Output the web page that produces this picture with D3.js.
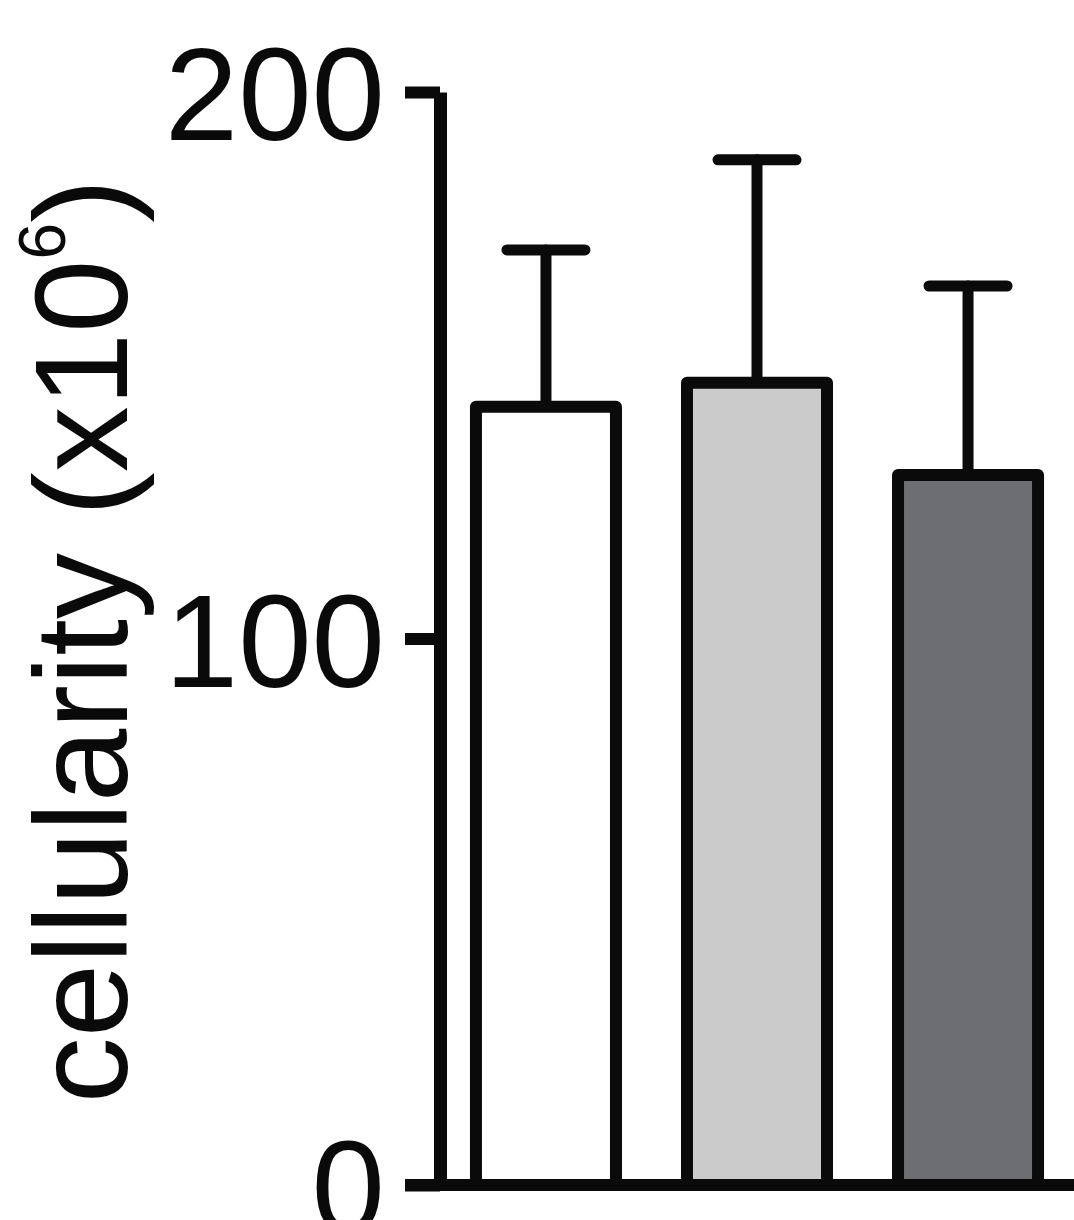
<!DOCTYPE html>
<html>
<head>
<meta charset="utf-8">
<script src="https://cdn.jsdelivr.net/npm/d3@7"></script>
<style>
  html, body { margin: 0; padding: 0; background: #fff; }
  svg { display: block; }
  text { font-family: "Liberation Sans", Arial, Helvetica, sans-serif; fill: #0a0a0a; }
</style>
</head>
<body>
<svg id="chart" width="1074" height="1220"></svg>
<script>
// Groups, mean cellularity and SD (x10^6)
const groups = ["group1", "group2", "group3"];
const means = [142.4, 146.8, 129.9];
const sds = [28.7, 40.8, 34.6];
const fills = ["#ffffff", "#cbcbcb", "#6d6e71"];
const yTicks = [0, 100, 200];

const ink = "#0a0a0a";
const svg = d3.select("#chart");

const y = d3.scaleLinear().domain([0, 200]).range([1185, 92]);
const x = d3.scaleBand()
  .domain(groups)
  .range([440.5, 1073.5])
  .paddingInner(0.3365)
  .paddingOuter(0.168);

// y axis
const yAxis = d3.axisLeft(y)
  .tickValues(yTicks)
  .tickSize(35)
  .tickSizeOuter(0)
  .tickPadding(20)
  .tickFormat(d3.format("d"));

const gy = svg.append("g")
  .attr("transform", "translate(440,0)")
  .call(yAxis);
gy.select(".domain").attr("stroke", ink).attr("stroke-width", 13);
gy.selectAll(".tick line").attr("stroke", ink).attr("stroke-width", 12);
gy.selectAll(".tick text")
  .attr("font-size", 132)
  .attr("font-family", "'Liberation Sans', Arial, sans-serif")
  .attr("fill", ink)
  .attr("dy", "0.36em");

// x baseline
svg.append("line")
  .attr("x1", 405).attr("x2", 1074)
  .attr("y1", y(0)).attr("y2", y(0))
  .attr("stroke", ink).attr("stroke-width", 12);

// error bars (upper whisker only)
const data = groups.map((g, i) => ({ g, mean: means[i], sd: sds[i], fill: fills[i] }));
const eb = svg.append("g").attr("stroke", ink).attr("stroke-width", 11).attr("stroke-linecap", "round");
eb.selectAll("line.stem").data(data).join("line")
  .attr("class", "stem")
  .attr("x1", d => x(d.g) + x.bandwidth() / 2)
  .attr("x2", d => x(d.g) + x.bandwidth() / 2)
  .attr("y1", d => y(d.mean))
  .attr("y2", d => y(d.mean + d.sd));
eb.selectAll("line.cap").data(data).join("line")
  .attr("class", "cap")
  .attr("x1", d => x(d.g) + x.bandwidth() / 2 - 39)
  .attr("x2", d => x(d.g) + x.bandwidth() / 2 + 39)
  .attr("y1", d => y(d.mean + d.sd))
  .attr("y2", d => y(d.mean + d.sd));

// bars
svg.append("g").selectAll("rect").data(data).join("rect")
  .attr("x", d => x(d.g))
  .attr("width", x.bandwidth())
  .attr("y", d => y(d.mean))
  .attr("height", d => y(0) - y(d.mean))
  .attr("fill", d => d.fill)
  .attr("stroke", ink)
  .attr("stroke-width", 12)
  .attr("stroke-linejoin", "round");

// redraw baseline over bar bottoms
svg.append("line")
  .attr("x1", 405).attr("x2", 1074)
  .attr("y1", y(0)).attr("y2", y(0))
  .attr("stroke", ink).attr("stroke-width", 12);

// y axis title
const title = svg.append("text")
  .attr("transform", "translate(127,641) rotate(-90)")
  .attr("text-anchor", "middle")
  .attr("font-size", 132);
title.append("tspan").text("cellularity (x10");
title.append("tspan").attr("font-size", 66).attr("dy", -62).text("6");
title.append("tspan").attr("dy", 62).text(")");
</script>
</body>
</html>
